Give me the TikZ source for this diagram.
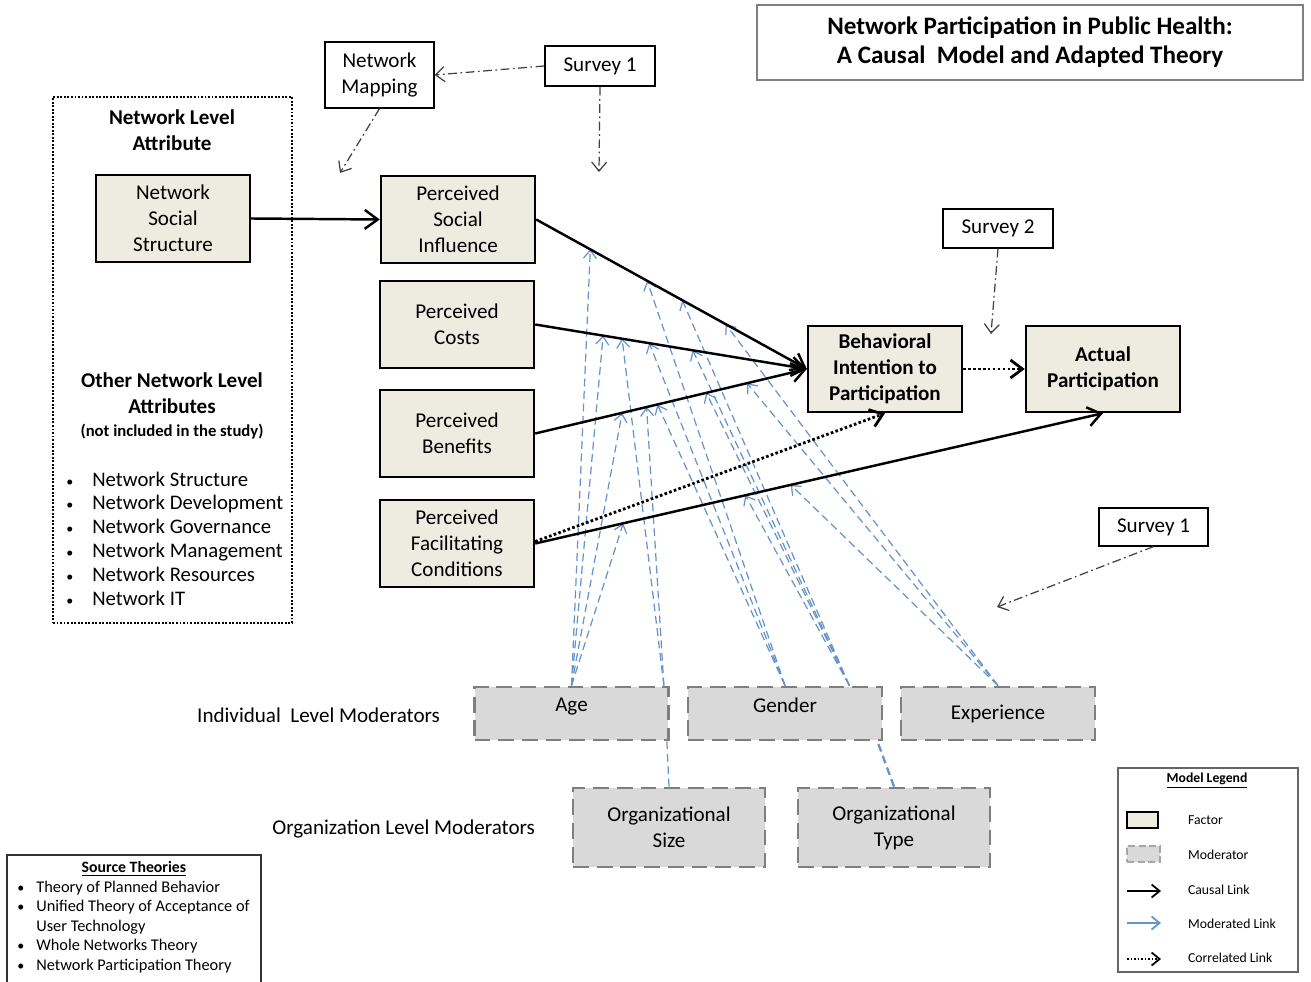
\documentclass[tikz,border=0pt]{standalone}
\usepackage{fontspec}
\setmainfont{Carlito}
\usetikzlibrary{arrows.meta,calc}

\definecolor{factorfill}{HTML}{EEECE1}
\definecolor{modfill}{HTML}{D9D9D9}
\definecolor{moddraw}{HTML}{7F7F7F}
\definecolor{modblue}{HTML}{6594CC}

\newcommand{\smallbullet}{{\fontsize{8}{8}\selectfont\textbullet}}

\begin{document}
\begin{tikzpicture}[x=0.02cm, y=-0.02cm,
    every node/.style={font=\fontsize{12}{14.8}\selectfont, inner sep=1pt},
    factor/.style={draw, line width=1.4pt, fill=factorfill, minimum width=3.08cm, minimum height=1.74cm, align=center},
    moderator/.style={draw=moddraw, fill=modfill, line width=1.6pt, dash pattern=on 9pt off 4.5pt, align=center, minimum width=3.88cm, minimum height=1.06cm},
    orgmod/.style={moderator, minimum width=3.84cm, minimum height=1.58cm},
    surveybox/.style={draw, line width=0.7pt, minimum width=2.2cm, minimum height=0.8cm, align=center},
    causal/.style={line width=1.4pt, -{Straight Barb[length=2.6mm,width=3.8mm]}},
    correlated/.style={line width=1.6pt, dash pattern=on 1.5pt off 1.3pt, -{Straight Barb[length=2.4mm,width=3.6mm]}},
    modline/.style={draw=modblue, line width=0.7pt, dash pattern=on 4.5pt off 2.6pt},
    modlink/.style={modline, -{Straight Barb[length=1.6mm,width=2.6mm]}},
    measure/.style={draw=black!75, line width=0.7pt, dash pattern=on 5pt off 2pt on 1pt off 2pt, -{Straight Barb[length=1.8mm,width=3mm]}}]

    \useasboundingbox (0,0) rectangle (1311,982);

    % --- Titolo ---
    \node[draw=black!50, line width=0.8pt, minimum width=10.92cm, minimum height=1.5cm, align=center,
      font=\bfseries\fontsize{14.3}{16.6}\selectfont] (title) at (1030,42.5)
      {Network Participation in Public Health:\\A Causal~ Model and Adapted Theory};

    % --- Attributi di rete (riquadro tratteggiato) ---
    \node[draw, line width=1.1pt, dash pattern=on 1.1pt off 0.9pt, minimum width=4.78cm, minimum height=10.52cm] (levelbox) at (172.5,360) {};
    \node[align=center, font=\bfseries\fontsize{12}{14.8}\selectfont] (leveltitle) at (172,130) {Network Level\\Attribute};
    \node[factor] (nss) at (173,218.5) {Network\\Social\\Structure};

    \node[align=center, font=\bfseries\fontsize{12}{15}\selectfont] (othertitle) at (172,406)
      {Other Network Level\\Attributes\\[-2pt]{\fontsize{9.5}{11}\selectfont (not included in the study)}};
    \node[anchor=west, inner sep=0pt, font=\fontsize{11.8}{13.6}\selectfont] (otherlist) at (66,541)
      {\begin{tabular}{@{}l@{}l@{}}
        \makebox[0.52cm][l]{\smallbullet} & Network Structure\\
        \makebox[0.52cm][l]{\smallbullet} & Network Development\\
        \makebox[0.52cm][l]{\smallbullet} & Network Governance\\
        \makebox[0.52cm][l]{\smallbullet} & Network Management\\
        \makebox[0.52cm][l]{\smallbullet} & Network Resources\\
        \makebox[0.52cm][l]{\smallbullet} & Network IT
      \end{tabular}};

    % --- Fattori ---
    \node[factor] (psi) at (458,219.5) {Perceived\\Social\\Influence};
    \node[factor] (pc)  at (457,324.5) {Perceived\\Costs};
    \node[factor] (pb)  at (457,433.5) {Perceived\\Benefits};
    \node[factor] (pfc) at (457,543.5) {Perceived\\Facilitating\\Conditions};
    \node[factor, font=\bfseries\fontsize{12}{14.8}\selectfont, minimum height=1.72cm] (bi) at (885,369) {Behavioral\\Intention to\\Participation};
    \node[factor, font=\bfseries\fontsize{12}{14.8}\selectfont, minimum height=1.72cm] (ap) at (1103,369) {Actual\\Participation};

    % --- Strumenti di misura ---
    \node[surveybox, minimum width=2.18cm, minimum height=1.32cm] (mapping) at (379.5,75) {Network\\Mapping};
    \node[surveybox] (survey1) at (600,66) {Survey 1};
    \node[surveybox, minimum height=0.78cm] (survey2) at (998,228.5) {Survey 2};
    \node[surveybox, minimum width=2.18cm, minimum height=0.76cm] (survey1b) at (1153.5,527) {Survey 1};

    % --- Moderatori ---
    \node[moderator, text depth=0.35cm] (age) at (571.5,713.5) {Age};
    \node[moderator, text depth=0.35cm] (gender) at (785,713.5) {Gender};
    \node[moderator, text depth=0.05cm] (experience) at (998,713.5) {Experience};
    \node[orgmod] (orgsize) at (669,827.5) {Organizational\\Size};
    \node[orgmod] (orgtype) at (894,827.5) {Organizational\\Type};

    \node[anchor=east] (indlabel) at (442,715) {Individual~ Level Moderators};
    \node[anchor=east] (orglabel) at (537,829) {Organization Level Moderators};

    % --- Link moderati ---
    \coordinate (ageR) at ($(age.north east)+(-6,0)$);
    \coordinate (genR) at ($(gender.north east)+(-34,0)$);
    \draw[modline] (orgsize.north) -- ($(age.south east)+(-3,0)$);
    \draw[modline, line width=1.3pt] (orgtype.north) -- ($(gender.south east)+(-6,0)$);

    \draw[modlink] (age.north) -- ($(psi.east)!0.20!(bi.west)$);
    \draw[modlink] (age.north) -- ($(pc.east)!0.25!(bi.west)$);
    \draw[modlink] (age.north) -- ($(pb.east)!0.32!(bi.west)$);
    \draw[modlink] (age.north) -- ($(pfc.east)!0.155!(ap.south)$);

    \draw[modlink] (ageR) -- ($(pc.east)!0.32!(bi.west)$);
    \draw[modlink] (ageR) -- ($(pb.east)!0.41!(bi.west)$);

    \draw[modlink] (gender.north) -- ($(psi.east)!0.41!(bi.west)$);
    \draw[modlink] (gender.north) -- ($(pc.east)!0.42!(bi.west)$);
    \draw[modlink] (gender.north) -- ($(pb.east)!0.45!(bi.west)$);

    \draw[modlink] (genR) -- ($(psi.east)!0.54!(bi.west)$);
    \draw[modlink] (genR) -- ($(pc.east)!0.58!(bi.west)$);
    \draw[modlink] (genR) -- ($(pb.east)!0.63!(bi.west)$);
    \draw[modlink] (genR) -- ($(pfc.east)!0.37!(ap.south)$);

    \draw[modlink] (experience.north) -- ($(psi.east)!0.70!(bi.west)$);
    \draw[modlink] (experience.north) -- ($(pb.east)!0.78!(bi.west)$);
    \draw[modlink] (experience.north) -- ($(pfc.east)!0.45!(ap.south)$);

    % --- Link causali e correlati ---
    \draw[causal] (nss.east) -- (psi.west);
    \draw[causal] (psi.east) -- (bi.west);
    \draw[causal] (pc.east) -- (bi.west);
    \draw[causal] (pb.east) -- (bi.west);
    \draw[causal] (pfc.east) -- (ap.south);
    \draw[correlated] ($(pfc.east)+(0,-2)$) -- (bi.south);
    \draw[correlated] (bi.east) -- (ap.west);

    % --- Misure ---
    \coordinate (mapend) at (340,173);
    \coordinate (s1end) at (599,172);
    \coordinate (s2end) at (991,334);
    \coordinate (s1bend) at (997,607);
    \draw[measure] (survey1.west) -- (mapping.east);
    \draw[measure] (mapping.south) -- (mapend);
    \draw[measure] (survey1.south) -- (s1end);
    \draw[measure] (survey2.south) -- (s2end);
    \draw[measure] (survey1b.south) -- (s1bend);

    % --- Teorie di partenza ---
    \node[draw=black!80, line width=0.8pt, minimum width=5.08cm, minimum height=2.7cm] (sources) at (134,922.5) {};
    \node[font=\bfseries\fontsize{9}{11}\selectfont] (sourcetitle) at (134,869) {\underline{Source Theories}};
    \node[anchor=west, inner sep=0pt, font=\fontsize{9.3}{11.1}\selectfont] (sourcelist) at (17,927.5)
      {\begin{tabular}{@{}l@{}l@{}}
        \makebox[0.38cm][l]{\smallbullet} & Theory of Planned Behavior\\
        \makebox[0.38cm][l]{\smallbullet} & Unified Theory of Acceptance of\\
        & User Technology\\
        \makebox[0.38cm][l]{\smallbullet} & Whole Networks Theory\\
        \makebox[0.38cm][l]{\smallbullet} & Network Participation Theory
      \end{tabular}};

    % --- Legenda ---
    \node[draw=black!60, line width=0.8pt, minimum width=3.6cm, minimum height=4.08cm] (legend) at (1208,870) {};
    \node[font=\bfseries\fontsize{7.8}{9}\selectfont] (legendtitle) at (1207,781) {\underline{Model Legend}};
    \node[draw, line width=1pt, fill=factorfill, minimum width=0.62cm, minimum height=0.32cm] (lgfactor) at (1142.5,820) {};
    \node[draw=black!35, fill=modfill, line width=1pt, dash pattern=on 4pt off 2pt, minimum width=0.66cm, minimum height=0.32cm] (lgmod) at (1143.5,854) {};
    \coordinate (lgc1) at (1127,891);  \coordinate (lgc2) at (1161,891);
    \coordinate (lgm1) at (1127,923);  \coordinate (lgm2) at (1161,923);
    \coordinate (lgr1) at (1127,959);  \coordinate (lgr2) at (1161,959);
    \draw[line width=1pt, -{Straight Barb[length=1.6mm,width=2.6mm]}] (lgc1) -- (lgc2);
    \draw[draw=modblue, line width=1pt, -{Straight Barb[length=1.6mm,width=2.6mm]}] (lgm1) -- (lgm2);
    \draw[line width=1pt, dash pattern=on 1pt off 1pt, -{Straight Barb[length=1.6mm,width=2.6mm]}] (lgr1) -- (lgr2);

    \node[anchor=west, font=\fontsize{7.8}{9}\selectfont] (lgfactortext) at (1186,820) {Factor};
    \node[anchor=west, font=\fontsize{7.8}{9}\selectfont] (lgmodtext) at (1186,855) {Moderator};
    \node[anchor=west, font=\fontsize{7.8}{9}\selectfont] (lgctext) at (1186,890) {Causal Link};
    \node[anchor=west, font=\fontsize{7.8}{9}\selectfont] (lgmtext) at (1186,924) {Moderated Link};
    \node[anchor=west, font=\fontsize{7.8}{9}\selectfont] (lgrtext) at (1186,958) {Correlated Link};

  \end{tikzpicture}
\end{document}
